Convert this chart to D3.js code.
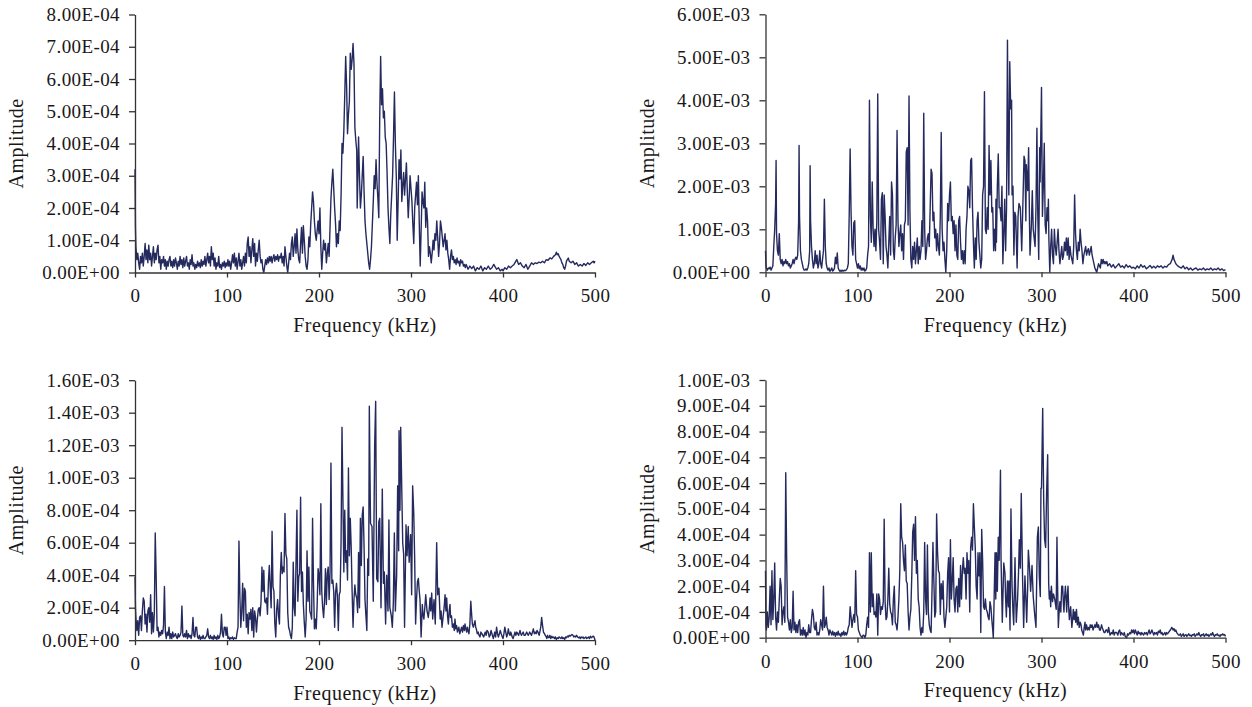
<!DOCTYPE html>
<html>
<head>
<meta charset="utf-8">
<script src="https://cdn.jsdelivr.net/npm/d3@7"></script>
<style>
  body { margin: 0; background: #fff; }
  text { font-family: "Liberation Serif", "Times New Roman", "DejaVu Serif", serif; fill: #1a1718; }
</style>
</head>
<body>
<svg id="chart" width="1252" height="707"></svg>
<script>
// x ticks shared by all four spectra (kHz)
const freqTicks = [0, 100, 200, 300, 400, 500];

// y ticks per panel, in the panel's unit
const yTicksA = [0, 1, 2, 3, 4, 5, 6, 7, 8];          // x1e-4
const yTicksB = [0, 1, 2, 3, 4, 5, 6];                // x1e-3
const yTicksC = [0, 2, 4, 6, 8, 10, 12, 14, 16];      // x1e-4
const yTicksD = [0, 1, 2, 3, 4, 5, 6, 7, 8, 9, 10];   // x1e-4

// [frequency kHz, amplitude]; amplitude in x1e-4
const spectrumA = [[0,3.2],[0.5,1.4],[1,0.8],[2,0.4],[3,0.6],[4,0.3],[5,0.1],[6,0.5],[7,0.3],[8,0.6],[9,0.2],[10,0.5],[11,0.9],[12,0.4],[13,0.7],[14,0.3],[15,0.85],[16,0.4],[17,0.6],[18,0.2],[19,0.5],[20,0.8],[21,0.3],[22,0.6],[23,0.4],[24,0.7],[25,0.85],[26,0.3],[27,0.5],[28,0.1],[29,0.4],[30,0.3],[31,0.5],[32,0.2],[33,0.4],[34,0.1],[35,0.35],[36,0.2],[37,0.4],[38,0.5],[39,0.2],[40,0.35],[41,0.15],[42,0.4],[43,0.2],[44,0.45],[45,0.3],[46,0.1],[47,0.35],[48,0.2],[49,0.5],[50,0.25],[51,0.4],[52,0.15],[53,0.45],[54,0.2],[55,0.35],[56,0.5],[57,0.2],[58,0.3],[59,0.1],[60,0.4],[61,0.25],[62,0.55],[63,0.2],[64,0.3],[65,0.1],[66,0.25],[67,0.15],[68,0.35],[69,0.2],[70,0.3],[71,0.15],[72,0.4],[73,0.2],[74,0.35],[75,0.25],[76,0.5],[77,0.2],[78,0.4],[79,0.6],[80,0.3],[81,0.5],[82,0.2],[83,0.8],[84,0.4],[85,0.6],[86,0.2],[87,0.45],[88,0.1],[89,0.3],[90,0.2],[91,0.5],[92,0.15],[93,0.25],[94,0.1],[95,0.3],[96,0.2],[97,0.35],[98,0.15],[99,0.3],[100,0.2],[101,0.4],[102,0.2],[103,0.35],[104,0.1],[105,0.3],[106,0.55],[107,0.3],[108,0.6],[109,0.2],[110,0.45],[111,0.1],[112,0.35],[113,0.6],[114,0.2],[115,0.4],[116,0.1],[117,0.3],[118,0.5],[119,0.2],[120,0.6],[121,0.3],[122,0.9],[123,1.1],[124,0.5],[125,0.8],[126,0.3],[127,0.7],[128,1.05],[129,0.5],[130,0.9],[131,0.2],[132,0.6],[133,0.35],[134,0.7],[135,1.0],[136,0.5],[137,0.3],[138,0.4],[139,0.1],[140,0.0],[141,0.2],[142,0.4],[143,0.25],[144,0.45],[145,0.3],[146,0.5],[147,0.35],[148,0.5],[149,0.3],[150,0.45],[151,0.55],[152,0.35],[153,0.5],[154,0.4],[155,0.55],[156,0.35],[157,0.5],[158,0.45],[159,0.6],[160,0.3],[161,0.5],[162,0.2],[163,0.8],[164,0.5],[165,0.2],[166,0.0],[167,0.3],[168,0.6],[169,0.4],[170,0.9],[171,1.1],[172,0.5],[173,0.8],[174,1.2],[175,0.6],[176,1.35],[177,0.7],[178,0.4],[179,0.3],[180,0.9],[181,1.4],[182,0.6],[183,1.45],[184,1.0],[185,0.5],[186,0.2],[187,0.1],[188,0.4],[189,1.1],[190,0.8],[191,1.5],[192,2.0],[193,2.5],[194,2.2],[195,1.6],[196,1.2],[197,1.0],[198,1.3],[199,1.6],[200,1.2],[201,2.0],[202,0.8],[203,0.1],[204,0.6],[205,1.0],[206,0.7],[207,0.9],[208,0.3],[209,0.6],[210,0.9],[211,0.5],[212,1.4],[213,2.3],[214,2.8],[215,3.2],[216,2.6],[217,2.0],[218,1.5],[219,0.8],[220,1.2],[221,0.9],[222,1.6],[223,1.3],[224,2.4],[225,4.0],[226,3.7],[227,4.4],[228,5.5],[229,6.7],[230,5.8],[231,4.3],[232,4.9],[233,5.3],[234,6.8],[235,6.3],[236,6.6],[237,7.1],[238,6.5],[239,4.5],[240,4.1],[241,3.8],[241.5,2.0],[242,2.6],[243,4.2],[244,3.0],[245,2.0],[246,2.4],[247,3.0],[248,3.6],[249,2.5],[250,1.6],[251,1.2],[252,0.9],[253,0.6],[254,0.3],[255,0.1],[256,0.4],[257,0.8],[258,1.5],[259,2.2],[260,3.0],[261,2.6],[262,3.5],[263,2.8],[264,2.3],[265,1.7],[266,4.8],[267,6.7],[268,5.2],[269,5.7],[270,4.8],[271,5.0],[272,4.2],[273,4.0],[274,3.1],[275,2.0],[276,1.4],[277,0.9],[278,1.8],[279,2.4],[280,3.0],[281,4.2],[282,5.6],[283,4.0],[284,3.0],[285,1.0],[286,2.2],[287,3.5],[288,2.9],[289,3.8],[290,2.2],[291,2.7],[292,3.1],[293,2.4],[294,2.9],[295,3.4],[296,2.5],[297,1.7],[298,2.3],[299,3.0],[300,2.6],[301,2.2],[302,1.5],[303,0.9],[304,2.0],[305,2.4],[306,2.8],[307,2.1],[308,3.0],[309,1.5],[310,0.2],[311,1.3],[312,2.5],[313,2.2],[314,2.0],[315,2.8],[316,1.4],[317,2.0],[318,1.6],[319,0.5],[320,0.8],[321,0.6],[322,0.3],[323,0.6],[324,1.0],[325,0.7],[326,1.2],[327,1.0],[328,1.6],[329,1.1],[330,0.5],[331,0.9],[332,1.6],[333,1.4],[334,1.1],[335,0.8],[336,1.0],[337,1.2],[338,0.7],[339,1.0],[340,0.6],[341,0.4],[342,0.1],[343,0.5],[344,0.7],[345,0.4],[346,0.5],[347,0.3],[348,0.4],[349,0.25],[350,0.45],[351,0.3],[352,0.35],[353,0.2],[354,0.4],[355,0.3],[356,0.35],[357,0.2],[358,0.25],[359,0.15],[360,0.25],[362,0.1],[364,0.2],[366,0.12],[368,0.2],[370,0.05],[372,0.15],[374,0.1],[376,0.2],[378,0.05],[380,0.15],[382,0.1],[384,0.2],[386,0.1],[388,0.15],[390,0.25],[391,0.2],[393,0.1],[395,0.15],[397,0.05],[399,0.1],[400,0.05],[402,0.15],[404,0.1],[406,0.2],[408,0.15],[410,0.2],[412,0.25],[414,0.35],[415,0.4],[417,0.25],[419,0.3],[421,0.2],[423,0.15],[425,0.25],[427,0.1],[429,0.2],[431,0.3],[433,0.25],[435,0.3],[437,0.28],[439,0.32],[441,0.3],[443,0.35],[445,0.3],[447,0.4],[449,0.38],[451,0.45],[453,0.42],[455,0.5],[457,0.55],[458,0.63],[459,0.55],[460,0.58],[461,0.5],[462,0.45],[463,0.4],[464,0.3],[465,0.25],[466,0.15],[467,0.1],[468,0.2],[469,0.35],[470,0.4],[471,0.45],[472,0.35],[474,0.3],[476,0.35],[478,0.25],[480,0.3],[482,0.2],[484,0.25],[486,0.2],[488,0.28],[490,0.22],[492,0.3],[494,0.25],[496,0.3],[498,0.35],[499,0.3],[500,0.35]];

// amplitude in x1e-3
const spectrumB = [[0,0.5],[0.5,0.15],[1,0.1],[2,0.05],[3,0.1],[4,0.08],[5,0.12],[6,0.05],[7,0.1],[8,0.15],[9,0.6],[10,1.0],[11,1.6],[11.5,2.6],[12,0.9],[13,0.5],[14,0.4],[15,0.9],[16,0.3],[17,0.2],[18,0.3],[19,0.15],[20,0.25],[21,0.2],[22,0.3],[23,0.2],[24,0.25],[25,0.15],[26,0.2],[27,0.1],[28,0.15],[29,0.2],[30,0.3],[31,0.2],[32,0.3],[33,0.35],[34,0.3],[35,0.4],[36,1.2],[36.5,2.95],[37,1.3],[38,0.5],[39,0.3],[40,0.2],[41,0.1],[42,0.05],[43,0.05],[44,0.08],[45,0.05],[46,0.1],[47,0.2],[48,0.5],[48.5,2.48],[49,1.2],[50,0.6],[51,0.3],[52,0.1],[53,0.2],[54,0.5],[55,0.2],[56,0.4],[57,0.1],[58,0.2],[59,0.5],[60,0.2],[61,0.1],[62,0.3],[63,0.5],[64,1.7],[65,0.6],[66,0.2],[67,0.1],[68,0.05],[69,0.1],[70,0.02],[71,0.05],[72,0.1],[73,0.03],[74,0.05],[75,0.1],[76,0.35],[77,0.2],[78,0.45],[79,0.1],[80,0.05],[81,0.02],[82,0.05],[83,0.02],[84,0.05],[85,0.03],[86,0.05],[87,0.04],[88,0.06],[89,0.1],[90,0.2],[91,1.35],[92,2.87],[93,1.4],[94,0.6],[95,0.4],[96,1.15],[97,1.2],[98,0.3],[99,0.2],[100,0.1],[101,0.2],[102,0.08],[103,0.15],[104,0.05],[105,0.1],[106,0.05],[107,0.1],[108,0.03],[109,0.05],[110,0.1],[111,0.4],[112,0.6],[113,4.0],[114,1.3],[115,0.7],[116,2.1],[117,1.0],[118,0.6],[119,1.0],[120,0.5],[121,1.2],[122,4.15],[123,1.0],[124,0.7],[125,0.3],[126,1.7],[127,1.85],[128,0.2],[129,1.8],[130,1.3],[131,0.6],[132,0.4],[133,0.1],[134,0.7],[135,1.3],[136,0.4],[137,2.1],[138,1.8],[139,0.5],[140,0.3],[141,0.8],[142,1.1],[143,3.3],[144,1.2],[145,0.6],[146,0.9],[147,1.1],[148,0.5],[149,0.9],[150,0.3],[151,1.1],[152,1.2],[153,2.8],[154,2.9],[155,1.1],[156,4.1],[157,1.4],[158,0.3],[159,0.1],[160,0.6],[161,0.3],[162,0.7],[163,0.2],[164,0.5],[165,0.8],[166,0.2],[167,0.6],[168,0.3],[169,0.5],[170,1.2],[171,0.6],[172,3.7],[173,1.0],[174,0.3],[175,0.5],[176,0.8],[177,0.9],[178,0.6],[179,1.5],[180,2.4],[181,2.3],[182,1.2],[183,1.4],[184,0.8],[185,1.0],[186,0.5],[187,0.9],[188,0.6],[189,0.4],[190,1.3],[191,3.25],[192,1.0],[193,0.5],[194,0.7],[195,0.3],[196,0.0],[197,0.5],[198,1.6],[199,1.2],[200,1.8],[201,2.1],[202,1.2],[203,1.3],[204,0.9],[205,1.2],[206,0.5],[207,1.1],[208,0.4],[209,0.3],[210,1.2],[211,1.3],[212,0.7],[213,0.3],[214,0.5],[215,0.2],[216,0.5],[217,0.2],[218,1.0],[219,1.3],[220,2.0],[221,1.9],[222,1.5],[223,2.6],[224,2.65],[225,1.5],[226,0.7],[227,0.1],[228,0.8],[229,0.3],[230,1.2],[231,1.4],[232,0.7],[233,0.4],[234,0.1],[235,0.3],[236,1.8],[237,2.0],[238,4.2],[239,1.0],[240,0.9],[241,1.5],[242,1.0],[243,2.95],[244,1.8],[245,2.6],[246,1.4],[247,1.5],[248,0.5],[249,1.0],[250,0.5],[250.5,1.7],[251,0.7],[252,2.0],[253,2.75],[254,1.5],[255,1.5],[256,1.2],[257,2.0],[258,0.2],[259,0.9],[260,1.7],[261,0.5],[262,1.5],[263,5.4],[264,2.5],[264.5,1.8],[265.5,4.9],[266.5,3.8],[267.5,4.0],[268,1.8],[269,2.0],[270,0.4],[271,1.4],[272,1.3],[273.5,0.1],[274.5,1.3],[275.5,1.6],[277,1.5],[278.5,0.5],[280,1.8],[281,2.7],[282,2.6],[283,1.2],[283.5,2.5],[285,1.9],[286,2.9],[287,1.1],[287.5,0.4],[289,1.1],[290,1.9],[291,1.0],[293,0.6],[294,1.5],[295,3.35],[296,1.3],[297,0.3],[298,2.9],[298.5,2.1],[300,4.3],[301,1.3],[302,2.0],[303,3.0],[304,1.1],[305,0.9],[306,1.5],[307,1.2],[307.5,1.7],[308,0.8],[309,0.0],[310,0.6],[311,1.0],[312,0.4],[313,0.2],[314,1.0],[315,0.6],[316,0.4],[317,0.7],[318,1.0],[319,0.5],[320,0.2],[321,0.4],[322,0.6],[323,0.3],[324,0.4],[325,0.7],[326,0.5],[327,0.8],[328,0.4],[329,0.8],[330,0.3],[331,0.6],[332,0.4],[333,0.3],[334,0.2],[335,0.6],[336,1.8],[337,0.9],[338,0.5],[339,0.3],[340,0.7],[341,0.5],[342,1.0],[343,0.7],[344,0.5],[345,0.2],[346,0.4],[347,0.5],[348,0.6],[349,0.4],[350,0.5],[351,0.55],[352,0.4],[353,0.5],[354,0.6],[355,0.4],[356,0.3],[357,0.2],[358,0.1],[359,0.05],[360,0.0],[361,0.1],[362,0.2],[363,0.15],[364,0.1],[365,0.3],[366,0.2],[367,0.3],[368,0.2],[369,0.25],[370,0.2],[371,0.25],[372,0.15],[374,0.2],[376,0.12],[378,0.18],[380,0.1],[382,0.15],[384,0.2],[386,0.12],[388,0.15],[390,0.1],[392,0.18],[394,0.12],[396,0.15],[398,0.1],[400,0.12],[402,0.08],[404,0.15],[406,0.1],[408,0.18],[410,0.12],[412,0.15],[414,0.08],[416,0.12],[418,0.16],[420,0.1],[422,0.14],[424,0.1],[426,0.15],[428,0.12],[430,0.15],[432,0.1],[434,0.14],[436,0.12],[438,0.18],[440,0.2],[441,0.25],[442,0.3],[443,0.4],[444,0.3],[445,0.25],[446,0.2],[448,0.15],[450,0.12],[452,0.1],[454,0.15],[456,0.08],[458,0.12],[460,0.06],[462,0.1],[464,0.05],[466,0.08],[468,0.1],[470,0.05],[472,0.08],[474,0.06],[476,0.1],[478,0.05],[480,0.08],[482,0.06],[484,0.1],[486,0.05],[488,0.08],[490,0.06],[492,0.1],[494,0.05],[496,0.08],[498,0.04],[500,0.06]];

// amplitude in x1e-4
const spectrumC = [[0,3.9],[0.5,2.0],[1,1.4],[2,0.6],[3,1.2],[4,0.3],[5,1.4],[6,1.5],[7,0.6],[8,1.8],[9,2.6],[10,2.4],[11,1.0],[12,1.6],[13,0.5],[14,1.8],[15,2.0],[16,1.1],[17,2.8],[18,0.4],[19,1.7],[20,0.5],[21,1.6],[22,6.6],[23,3.9],[24,0.6],[25,0.8],[26,0.2],[27,0.5],[28,0.3],[29,0.6],[30,0.4],[31,0.9],[32,3.3],[33,0.5],[34,0.1],[35,0.5],[36,0.3],[37,0.8],[38,0.1],[39,0.4],[40,0.1],[41,0.5],[42,0.2],[43,0.3],[44,0.4],[45,0.2],[46,0.1],[47,0.4],[48,0.2],[49,0.3],[50,0.5],[51,2.1],[52,0.3],[53,0.2],[54,0.4],[55,0.2],[56,0.6],[57,0.1],[58,0.4],[59,0.2],[60,0.3],[61,0.1],[62,0.4],[63,1.4],[64,0.3],[65,0.2],[66,0.8],[67,0.8],[68,0.2],[69,0.1],[70,0.3],[71,0.05],[72,0.2],[73,0.1],[74,0.3],[75,0.1],[76,0.1],[77,0.2],[78,0.3],[79,0.7],[80,0.2],[81,0.1],[82,0.3],[83,0.1],[84,0.2],[85,0.05],[86,0.3],[87,0.1],[88,0.2],[89,0.05],[90,0.3],[91,0.1],[92,0.2],[93,0.5],[94,1.6],[95,0.4],[96,0.2],[97,0.8],[98,0.8],[99,0.3],[100,0.8],[101,0.1],[102,0.2],[103,0.05],[104,0.15],[105,0.1],[106,0.2],[107,0.05],[108,0.15],[109,0.1],[110,0.1],[111,0.5],[112,0.8],[113,6.1],[114,2.7],[115,0.8],[116,1.8],[117,3.5],[118,1.2],[119,3.2],[120,3.0],[121,0.8],[122,1.6],[123,0.4],[124,1.7],[125,1.3],[126,1.9],[127,0.6],[128,2.0],[129,0.2],[130,1.8],[131,1.4],[132,0.5],[133,1.3],[134,1.9],[135,2.0],[136,1.5],[137,2.4],[138,4.5],[139,3.0],[140,4.3],[141,2.4],[142,2.3],[143,2.6],[144,1.6],[145,3.6],[146,4.6],[147,3.2],[148,2.0],[149,6.7],[150,3.3],[151,3.0],[152,1.0],[153,0.2],[154,1.9],[155,2.5],[156,1.5],[157,1.0],[158,4.0],[159,5.4],[160,4.1],[161,4.5],[162,4.2],[163,7.8],[164,5.3],[165,5.0],[166,1.7],[167,0.8],[168,0.6],[169,0.3],[170,0.1],[171,0.8],[172,4.8],[173,2.0],[174,1.5],[175,4.7],[176,8.0],[177,2.4],[178,3.9],[179,4.1],[180,8.8],[181,3.0],[182,4.2],[183,2.2],[184,1.1],[185,0.2],[186,1.3],[187,5.5],[188,2.4],[189,4.5],[190,1.8],[191,1.6],[192,1.3],[193,7.5],[194,3.5],[195,0.7],[196,1.3],[197,0.7],[198,2.2],[199,4.4],[200,4.0],[201,2.8],[202,8.4],[203,3.0],[204,2.0],[205,1.4],[206,2.4],[207,4.4],[208,2.2],[209,4.1],[210,4.5],[211,2.5],[212,4.2],[213,10.9],[214,3.5],[215,3.7],[216,3.0],[217,0.8],[218,2.9],[219,3.5],[220,2.7],[221,0.6],[222,2.8],[223,3.0],[224,6.1],[225,13.1],[226,8.7],[227,4.2],[228,8.0],[229,4.8],[230,5.5],[231,3.7],[232,10.6],[233,5.2],[234,7.5],[235,5.7],[236,3.0],[237,0.8],[238,2.5],[239,3.4],[240,2.8],[241,2.6],[242,1.7],[243,5.4],[244,2.0],[245,7.5],[246,4.6],[247,7.7],[248,8.2],[249,5.7],[250,2.5],[251,1.5],[252,0.6],[253,5.0],[254,4.0],[254.7,14.4],[256,7.2],[257.6,7.0],[259,2.4],[260.5,12.0],[261.6,14.7],[262.7,3.8],[264,3.6],[265,7.3],[266,7.5],[267.4,2.0],[268.8,9.3],[270,3.5],[271,4.2],[272.4,1.0],[273.6,4.0],[275,1.8],[276,7.4],[277,2.0],[278.6,1.5],[279.7,0.8],[280.8,2.3],[281.9,6.6],[283,1.8],[284.4,4.0],[285.5,9.5],[286.6,5.5],[287,12.9],[288,8.0],[288.8,13.1],[289.9,9.5],[291,6.0],[292,5.3],[293,0.8],[294.6,7.1],[295.7,5.2],[297,7.0],[298,4.8],[299.6,6.5],[300.7,2.8],[301.8,9.5],[303,7.8],[304,5.0],[305,1.0],[306,2.5],[307,3.6],[308,3.8],[309,3.0],[309.8,2.5],[311,0.2],[312.3,2.2],[313,1.6],[314,1.3],[315,2.0],[316,2.8],[317.4,1.8],[318.8,1.4],[320,2.0],[320.7,2.6],[321.5,1.8],[322.5,2.9],[323.6,1.3],[325,2.5],[326.4,1.0],[327.9,6.0],[329,2.8],[330.4,3.2],[331.7,1.3],[332.7,1.8],[333.7,0.8],[335,1.5],[336,2.0],[337,2.8],[338,1.8],[338.8,2.6],[339.7,1.5],[340.6,1.0],[341.5,1.8],[342.4,2.2],[343,1.4],[344,1.5],[345,0.8],[346,1.0],[347,0.6],[347.8,1.3],[348.7,0.7],[349.6,0.9],[350.5,0.5],[351,0.6],[352,0.8],[353,0.4],[354,0.6],[355,0.8],[356,0.5],[357,0.9],[358,0.6],[358.7,1.0],[359.6,0.7],[360.5,0.5],[361.3,0.8],[362,0.6],[363,0.4],[364,1.0],[365,2.4],[366,1.5],[366.7,1.0],[367.8,0.8],[368.7,1.0],[369.6,1.2],[370.3,0.8],[371,0.7],[372,0.4],[373,0.5],[374,0.3],[375,0.2],[376,0.5],[377,0.4],[378,0.3],[379,0.2],[380,0.4],[380.8,0.5],[381.7,0.3],[382.6,0.6],[384,0.5],[385,0.2],[386,0.3],[387,0.6],[388,0.4],[389,0.2],[389.5,0.1],[390.3,0.3],[391,0.5],[392,0.2],[393,0.8],[394,0.4],[395,0.2],[396,0.4],[397,0.6],[398,0.4],[398.6,0.3],[399.3,0.2],[400,0.1],[401,0.4],[402,0.8],[403,0.5],[404,0.2],[405,0.4],[405.8,0.7],[406.7,0.4],[407.6,0.3],[408.4,0.5],[409,0.4],[410,0.2],[411,0.1],[412,0.3],[413,0.5],[414,0.3],[415,0.5],[416,0.4],[417,0.3],[418,0.5],[418.5,0.6],[419.3,0.4],[420,0.3],[421,0.4],[422,0.5],[423,0.3],[424,0.3],[425,0.4],[425.7,0.5],[426.6,0.4],[427.5,0.3],[428.3,0.4],[429,0.5],[430,0.4],[431,0.3],[432,0.5],[433,0.7],[434,0.4],[435,0.5],[436,0.4],[437,0.6],[438,0.5],[438.6,0.4],[439.3,0.3],[440,0.5],[441,0.8],[442,1.4],[443,0.9],[444,0.5],[445,0.4],[446,0.3],[447,0.2],[447.6,0.1],[448.5,0.3],[449,0.2],[450,0.15],[451,0.3],[452,0.1],[453,0.25],[454,0.15],[455,0.2],[456,0.1],[457,0.2],[458,0.05],[459,0.15],[460,0.1],[461,0.2],[462,0.15],[463,0.1],[464,0.2],[465,0.1],[466,0.15],[467,0.05],[468,0.2],[469,0.15],[470,0.25],[471,0.2],[472,0.3],[473,0.25],[474,0.3],[475,0.35],[476,0.3],[477,0.2],[478,0.25],[479,0.2],[480,0.3],[481,0.2],[482,0.15],[483,0.2],[484,0.1],[485,0.2],[486,0.15],[487,0.2],[488,0.1],[489,0.15],[490,0.2],[491,0.1],[492,0.15],[493,0.2],[494,0.1],[495,0.25],[496,0.15],[497,0.2],[498,0.25],[499,0.2],[500,0.0]];

// amplitude in x1e-4
const spectrumD = [[0,2.6],[0.5,0.5],[1,0.3],[2,1.0],[3,0.4],[4,0.8],[5,2.0],[6,0.5],[7,2.6],[8,0.7],[9,1.5],[10,2.9],[11,0.8],[12,0.3],[13,1.0],[14,0.6],[15,1.5],[16,2.3],[17,2.0],[18,0.5],[19,1.0],[20,1.2],[21,0.6],[22,6.4],[23,3.1],[24,0.8],[25,0.6],[26,0.3],[27,0.7],[28,0.2],[29,0.4],[30,1.8],[31,0.3],[32,0.6],[33,0.2],[34,0.5],[35,0.2],[36,0.6],[37,0.7],[38,0.1],[39,0.3],[40,0.1],[41,0.4],[42,0.1],[43,0.3],[44,0.0],[45,0.2],[46,0.1],[47,0.5],[48,0.2],[49,0.2],[50,0.7],[51,1.1],[52,0.9],[53,0.4],[54,0.3],[55,0.6],[56,0.1],[57,0.2],[58,0.1],[59,0.3],[60,0.7],[61,0.5],[62,0.3],[63,2.0],[64,0.4],[65,0.5],[66,0.8],[67,0.4],[68,0.3],[69,0.1],[70,0.3],[71,0.2],[72,0.1],[73,0.25],[74,0.1],[75,0.2],[76,0.05],[77,0.2],[78,0.1],[79,0.25],[80,0.1],[81,0.15],[82,0.05],[83,0.2],[84,0.1],[85,0.25],[86,0.1],[87,0.2],[88,0.1],[89,0.2],[90,0.4],[91,0.5],[92,1.2],[93,0.8],[94,0.4],[95,0.7],[96,0.9],[97,0.6],[98,2.6],[99,0.9],[100,0.8],[101,0.3],[102,0.2],[103,0.1],[104,0.05],[105,0.0],[106,0.1],[107,0.1],[108,0.0],[109,0.1],[110,0.5],[111,0.8],[112,0.4],[113,3.3],[114,1.0],[115,3.3],[116,1.2],[117,1.7],[118,0.9],[119,1.0],[120,0.8],[121,1.7],[122,0.1],[123,1.7],[124,1.5],[125,0.9],[126,1.2],[127,1.1],[128,1.4],[129,4.6],[130,1.4],[131,0.7],[132,0.8],[133,1.5],[134,2.7],[135,1.3],[136,1.0],[137,0.9],[138,0.5],[139,1.5],[140,2.0],[141,0.6],[142,0.5],[143,0.3],[144,0.8],[145,1.5],[146,2.6],[147,5.2],[148,3.9],[149,3.7],[150,3.0],[151,2.6],[152,3.6],[153,2.2],[154,2.1],[155,1.0],[156,0.3],[157,0.8],[158,1.1],[159,2.4],[160,4.1],[161,4.4],[162,3.0],[163,4.7],[164,2.5],[165,3.0],[166,1.5],[167,1.2],[168,0.4],[169,0.1],[170,0.4],[171,0.2],[172,1.0],[173,3.7],[174,1.5],[175,0.9],[176,3.6],[177,1.0],[178,0.5],[179,0.3],[180,0.2],[181,1.8],[182,3.7],[183,2.2],[184,0.8],[185,1.0],[186,4.8],[187,3.3],[188,2.6],[189,2.5],[190,0.9],[191,2.1],[192,1.5],[193,2.2],[194,0.8],[195,0.4],[196,0.8],[197,1.2],[198,2.5],[199,3.1],[200,1.0],[201,3.8],[202,1.5],[203,2.2],[204,3.1],[205,1.5],[206,1.0],[207,1.9],[208,2.0],[209,1.0],[210,2.3],[211,1.2],[212,2.8],[213,1.5],[214,2.6],[215,3.1],[216,2.5],[217,2.7],[218,1.5],[219,3.3],[220,2.5],[221,3.0],[222,1.0],[223,3.5],[224,3.9],[225,3.4],[226,5.2],[227,4.3],[228,3.5],[229,2.0],[230,1.5],[231,3.3],[232,2.4],[233,3.3],[234,0.2],[235,4.2],[236,3.0],[237,1.2],[238,1.1],[239,1.5],[240,1.1],[241,1.0],[242,0.8],[243,0.7],[244,1.4],[245,1.2],[246,0.7],[247,0.3],[247.6,0.0],[248.5,1.5],[249.5,3.3],[250.3,1.5],[251,3.3],[252,1.8],[253,3.9],[254,3.0],[255.4,6.5],[256,3.1],[257.4,0.6],[258,1.5],[259,2.9],[260.3,2.5],[261,1.5],[261.8,0.8],[263,2.2],[264,1.2],[264.7,2.2],[265.8,0.3],[266.8,5.0],[268,2.0],[269,1.0],[269.8,0.5],[271.2,3.1],[272,1.5],[272.6,0.6],[274,1.5],[275,2.5],[275.9,3.8],[277,2.7],[278,5.6],[279.5,2.2],[280.6,0.4],[282,2.4],[283,1.5],[283.9,0.6],[285,2.0],[285.7,3.4],[287,2.7],[288.2,1.8],[289.7,2.8],[291,1.6],[292.6,0.9],[294,0.4],[295.5,3.9],[296.6,4.3],[297.6,2.4],[298.7,1.6],[299.4,5.8],[300,5.8],[301.3,8.9],[302.4,5.3],[303.4,3.8],[304.5,3.5],[305.6,5.7],[306.7,7.1],[307.8,2.1],[308.5,1.5],[309.2,1.8],[310,1.2],[310.7,2.0],[312,1.4],[313,1.7],[314.4,1.5],[316,1.1],[316.8,3.9],[317.5,2.0],[318.3,0.4],[319,0.9],[320,1.4],[321,1.0],[322,2.0],[323,2.0],[323.7,1.4],[324.4,1.0],[325,1.5],[326,2.0],[327.4,1.0],[328,1.6],[328.8,2.0],[329.5,1.2],[330.3,0.7],[331,1.0],[331.7,1.2],[332.3,0.8],[333,0.4],[334,0.8],[334.6,1.1],[335.5,0.7],[336.4,1.0],[337.2,0.6],[338,1.1],[339,0.5],[340,0.8],[341,0.4],[342,0.6],[343,0.5],[343.7,0.3],[344.6,0.2],[345.5,0.1],[346.4,0.4],[347.3,0.6],[348,0.3],[349,0.5],[350,0.3],[351,0.4],[352,0.3],[353,0.5],[354,0.4],[355,0.5],[356,0.3],[357,0.4],[358,0.5],[359,0.4],[360,0.6],[361,0.4],[362,0.5],[363,0.3],[364,0.3],[365.3,0.5],[366,0.4],[367,0.3],[368,0.2],[369,0.2],[370,0.3],[371,0.3],[372,0.2],[373,0.4],[374,0.2],[374.5,0.1],[376,0.2],[377,0.15],[378,0.3],[379,0.1],[380,0.2],[381.7,0.2],[383,0.1],[384,0.25],[385,0.3],[386,0.1],[387,0.2],[388,0.15],[389,0.1],[390,0.2],[391,0.05],[392.6,0.0],[393.5,0.15],[394.5,0.1],[396,0.2],[397,0.15],[398,0.3],[399,0.2],[400,0.3],[401,0.15],[402,0.3],[403,0.2],[404,0.1],[405,0.25],[406,0.15],[407,0.2],[408,0.1],[409,0.2],[410,0.15],[411,0.1],[412,0.2],[413,0.15],[414,0.2],[415,0.1],[416,0.2],[417,0.3],[418,0.15],[419,0.2],[420,0.3],[421,0.2],[422,0.1],[423,0.2],[424,0.15],[425,0.2],[426,0.1],[427,0.25],[428,0.2],[429,0.3],[430,0.15],[431,0.2],[432,0.1],[433,0.15],[434,0.2],[435,0.1],[436,0.2],[437,0.15],[438,0.2],[439,0.25],[440,0.3],[441,0.35],[441.6,0.4],[442.5,0.35],[443,0.3],[444,0.35],[445,0.25],[446,0.3],[447,0.2],[448,0.15],[449,0.1],[450,0.1],[451,0.15],[452,0.05],[453,0.1],[454,0.15],[455,0.05],[456,0.1],[457,0.12],[458,0.05],[459,0.1],[460,0.15],[461,0.08],[462,0.1],[463,0.05],[464,0.12],[465,0.1],[466,0.15],[467,0.05],[468,0.1],[469,0.15],[470,0.1],[471,0.2],[472,0.1],[473,0.05],[474,0.12],[475,0.1],[476,0.15],[477,0.05],[478,0.1],[479,0.15],[480,0.08],[481,0.12],[482,0.05],[483,0.1],[484,0.15],[485,0.1],[486,0.2],[487,0.1],[488,0.05],[489,0.12],[490,0.1],[491,0.15],[492,0.08],[493,0.1],[494,0.05],[495,0.12],[496,0.1],[497,0.15],[498,0.1],[499,0.12],[500,0.05]];

// layout of the 2x2 grid
const panels = [
  { data: spectrumA, unit: 1e-4, ticks: yTicksA, left: 135, top: 14.5, width: 460, height: 258 },
  { data: spectrumB, unit: 1e-3, ticks: yTicksB, left: 765.5, top: 14.3, width: 460, height: 258 },
  { data: spectrumC, unit: 1e-4, ticks: yTicksC, left: 135, top: 380.2, width: 460, height: 260 },
  { data: spectrumD, unit: 1e-4, ticks: yTicksD, left: 765.5, top: 380, width: 460, height: 257.7 }
];

const lineColor = "#252a5e";
const axisColor = "#333";
const fontStack = '"Liberation Serif", "Times New Roman", "DejaVu Serif", serif';

// 8.00E-04 style labels
function sci(v) {
  const parts = v.toExponential(2).split("e");
  const n = +parts[1];
  return parts[0] + "E" + (n < 0 ? "-" : "+") + String(Math.abs(n)).padStart(2, "0");
}

const svg = d3.select("#chart");

panels.forEach(function (p) {
  const g = svg.append("g").attr("transform", `translate(${p.left},${p.top})`);

  const x = d3.scaleLinear().domain([0, 500]).range([0, p.width]);
  const yMax = p.ticks[p.ticks.length - 1] * p.unit;
  const y = d3.scaleLinear().domain([0, yMax]).range([p.height, 0]);

  const line = d3
    .line()
    .x((d) => x(d[0]))
    .y((d) => y(d[1] * p.unit));

  g.append("path")
    .datum(p.data)
    .attr("fill", "none")
    .attr("stroke", lineColor)
    .attr("stroke-width", 1.4)
    .attr("stroke-linejoin", "round")
    .attr("d", line);

  // y axis
  const yAxis = g
    .append("g")
    .call(
      d3
        .axisLeft(y)
        .tickValues(p.ticks.map((t) => t * p.unit))
        .tickFormat(sci)
        .tickSize(6)
        .tickSizeOuter(0)
        .tickPadding(9)
    );

  // x axis
  const xAxis = g
    .append("g")
    .attr("transform", `translate(0,${p.height})`)
    .call(
      d3
        .axisBottom(x)
        .tickValues(freqTicks)
        .tickSize(5)
        .tickSizeOuter(0)
        .tickPadding(11.5)
    );

  [yAxis, xAxis].forEach(function (a) {
    a.attr("font-family", null);
    a.select(".domain").attr("stroke", axisColor).attr("stroke-width", 1.3);
    a.selectAll(".tick line").attr("stroke", axisColor).attr("stroke-width", 1.3);
    a.selectAll(".tick text")
      .attr("fill", "#1a1718")
      .style("font-family", fontStack)
      .style("font-size", "19px")
      .style("letter-spacing", "0.4px");
  });

  // axis titles
  g.append("text")
    .attr("x", p.width / 2)
    .attr("y", p.height + 59.5)
    .attr("text-anchor", "middle")
    .style("font-family", fontStack)
    .style("font-size", "20px")
    .style("letter-spacing", "0.5px")
    .text("Frequency (kHz)");

  g.append("text")
    .attr("transform", `translate(-112,${p.height / 2}) rotate(-90)`)
    .attr("text-anchor", "middle")
    .style("font-family", fontStack)
    .style("font-size", "20px")
    .style("letter-spacing", "0.5px")
    .text("Amplitude");
});
</script>
</body>
</html>
